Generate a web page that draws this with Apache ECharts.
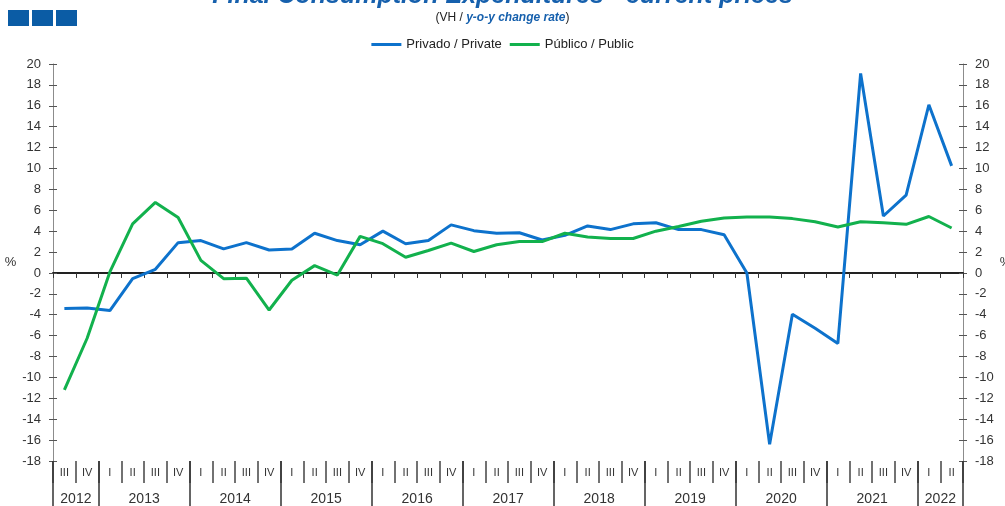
<!DOCTYPE html>
<html>
<head>
<meta charset="utf-8">
<script src="https://cdn.jsdelivr.net/npm/echarts@6/dist/echarts.min.js"></script>
<style>
  html, body { margin: 0; padding: 0; background: #fff; }
  #chart { width: 1005px; height: 506px; }
</style>
</head>
<body>
<div id="chart"></div>
<script>
// quarters shown, grouped by year
var years = ["2012", "2013", "2014", "2015", "2016", "2017", "2018", "2019", "2020", "2021", "2022"];
var yearQuarters = [
  ["III", "IV"],
  ["I", "II", "III", "IV"], ["I", "II", "III", "IV"], ["I", "II", "III", "IV"],
  ["I", "II", "III", "IV"], ["I", "II", "III", "IV"], ["I", "II", "III", "IV"],
  ["I", "II", "III", "IV"], ["I", "II", "III", "IV"], ["I", "II", "III", "IV"],
  ["I", "II"]
];

// y-o-y change rate, %
var privado = [
  -3.4, -3.35, -3.6,
  -0.55, 0.35, 2.9, 3.1,
  2.3, 2.9, 2.2, 2.3,
  3.8, 3.1, 2.7, 4.0,
  2.8, 3.1, 4.6, 4.05,
  3.8, 3.85, 3.15, 3.6,
  4.5, 4.15, 4.7, 4.8,
  4.15, 4.15, 3.65, 0.0,
  -16.4, -3.95, -5.3, -6.75,
  19.1, 5.45, 7.45, 16.1,
  10.25
];
var publico = [
  -11.2, -6.25, 0.1,
  4.7, 6.75, 5.3, 1.2,
  -0.55, -0.5, -3.55, -0.7,
  0.7, -0.2, 3.5, 2.8,
  1.5, 2.15, 2.85, 2.05,
  2.7, 3.0, 3.0, 3.8,
  3.45, 3.3, 3.3, 4.0,
  4.45, 4.95, 5.25, 5.35,
  5.35, 5.2, 4.9, 4.4,
  4.9, 4.8, 4.65, 5.4,
  4.3
];

var yTicks = { min: -18, max: 20, step: 2 };

// build category list and year boundaries
var categories = [];
var yearStart = [];
var yearLabelIdx = {};
years.forEach(function (y, k) {
  yearStart.push(categories.length);
  yearLabelIdx[categories.length + yearQuarters[k].length / 2 - 1] = y;
  yearQuarters[k].forEach(function (q) {
    categories.push(y + "|" + q);
  });
});

var blue = "#0d72cc";
var green = "#12b14d";
var titleBlue = "#1660ad";
var axisGray = "#8c8c8c";

var chart = echarts.init(document.getElementById("chart"));

function valueAxis(pos, main) {
  return {
    type: "value",
    position: pos,
    min: yTicks.min,
    max: yTicks.max,
    interval: yTicks.step,
    name: main ? "%" : "",
    nameLocation: "middle",
    nameRotate: 0,
    nameGap: pos === "left" ? 28 : 30,
    nameTextStyle: { color: "#333", fontSize: 13 },
    axisLine: { show: main, lineStyle: { color: axisGray } },
    axisTick: { show: true, inside: !main, length: 4, lineStyle: { color: "#555" } },
    axisLabel: { show: main, margin: 12, fontSize: 13, color: "#333" },
    splitLine: { show: false }
  };
}

var option = {
  animation: false,
  backgroundColor: "#fff",
  textStyle: { fontFamily: "Liberation Sans, Arial, sans-serif" },
  title: {
    text: "Final Consumption Expenditures - current prices",
    left: "center",
    top: -21,
    textStyle: {
      color: titleBlue,
      fontSize: 25,
      fontWeight: "bold",
      fontStyle: "italic"
    },
    subtext: "{n|(VH / }{b|y-o-y change rate}{n|)}",
    itemGap: 3,
    subtextStyle: {
      rich: {
        n: { color: "#222", fontSize: 12 },
        b: { color: titleBlue, fontSize: 12, fontWeight: "bold", fontStyle: "italic" }
      }
    }
  },
  legend: {
    top: 33,
    left: "center",
    itemWidth: 30,
    itemHeight: 3,
    itemGap: 8,
    icon: "rect",
    textStyle: { color: "#222", fontSize: 13 },
    data: ["Privado / Private", "Público / Public"]
  },
  grid: { left: 53, right: 42, top: 64, bottom: 45, outerBoundsMode: "none", containLabel: false },
  graphic: [
    { type: "rect", left: 8, top: 10, shape: { width: 21, height: 16 }, style: { fill: "#0b5ca5" } },
    { type: "rect", left: 32, top: 10, shape: { width: 21, height: 16 }, style: { fill: "#0b5ca5" } },
    { type: "rect", left: 56, top: 10, shape: { width: 21, height: 16 }, style: { fill: "#0b5ca5" } }
  ],
  xAxis: [
    {
      type: "category",
      data: categories,
      position: "bottom",
      axisLine: { onZero: true, lineStyle: { color: "#222", width: 2 } },
      axisTick: { show: true, interval: 0, length: 5, lineStyle: { color: "#333", width: 1 } },
      axisLabel: { show: false },
      splitLine: { show: false }
    },
    {
      type: "category",
      data: categories,
      position: "bottom",
      axisLine: { show: false, onZero: false },
      axisTick: { show: true, interval: 0, length: 22, lineStyle: { color: "#444", width: 1.5 } },
      axisLabel: {
        interval: 0,
        margin: 6,
        fontSize: 11,
        color: "#333",
        formatter: function (v) { return v.split("|")[1]; }
      },
      splitLine: { show: false }
    },
    {
      type: "category",
      data: categories,
      position: "bottom",
      axisLine: { show: false, onZero: false },
      axisTick: {
        show: true,
        length: 45,
        interval: function (i) { return yearStart.indexOf(i) >= 0; },
        lineStyle: { color: "#333", width: 1.5 }
      },
      axisLabel: {
        margin: 31,
        fontSize: 14,
        color: "#333",
        padding: [0, 0, 0, 23],
        interval: function (i) { return yearLabelIdx[i] !== undefined; },
        formatter: function (v) { return v.split("|")[0]; }
      },
      splitLine: { show: false }
    }
  ],
  yAxis: [
    valueAxis("left", true),
    valueAxis("right", true),
    valueAxis("left", false),
    valueAxis("right", false)
  ],
  series: [
    {
      name: "Privado / Private",
      type: "line",
      xAxisIndex: 0,
      yAxisIndex: 0,
      data: privado,
      showSymbol: false,
      symbol: "none",
      lineStyle: { color: blue, width: 3 },
      itemStyle: { color: blue }
    },
    {
      name: "Público / Public",
      type: "line",
      xAxisIndex: 0,
      yAxisIndex: 0,
      data: publico,
      showSymbol: false,
      symbol: "none",
      lineStyle: { color: green, width: 3 },
      itemStyle: { color: green }
    }
  ]
};

chart.setOption(option);
</script>
</body>
</html>
